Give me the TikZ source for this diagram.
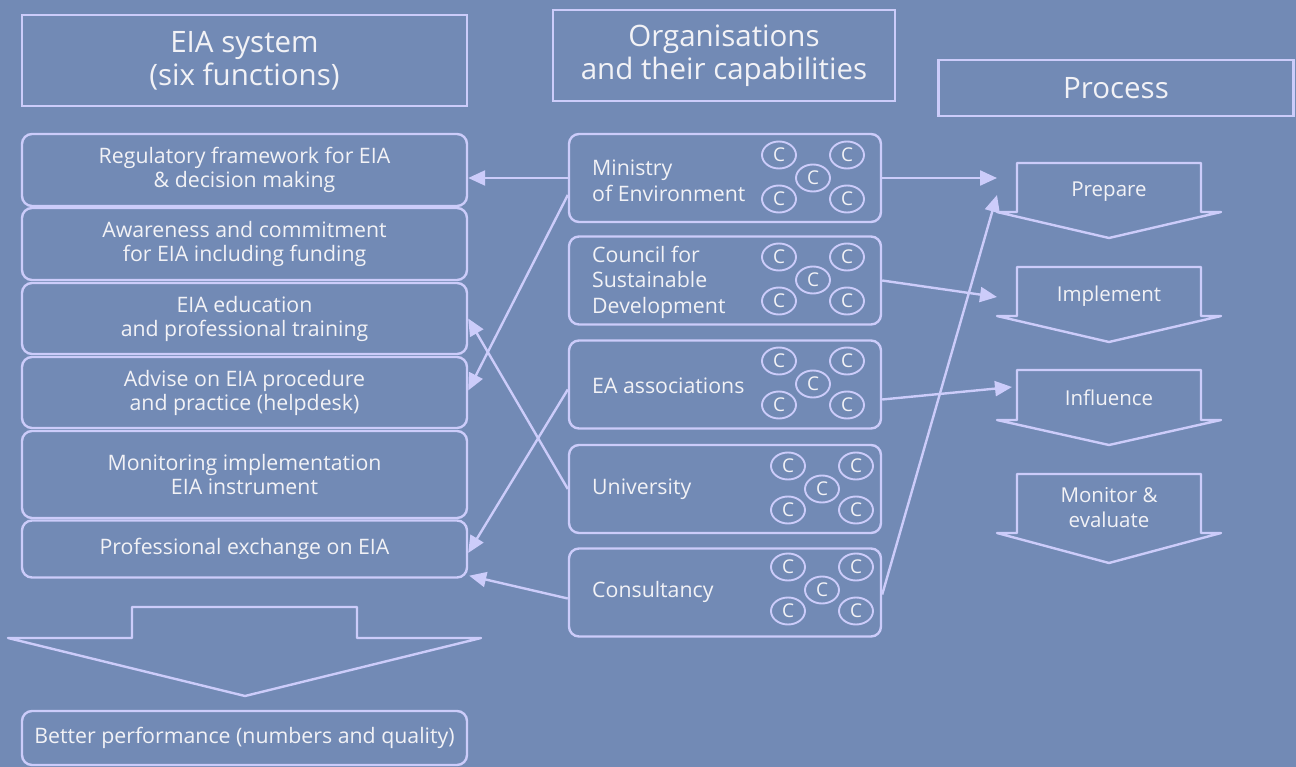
\documentclass[tikz,border=0pt]{standalone}
\usepackage{fontspec}
\setmainfont{Open Sans}
\usetikzlibrary{arrows.meta,shapes.geometric,calc}
\definecolor{bg}{RGB}{114,138,181}
\definecolor{ln}{RGB}{204,204,250}
\definecolor{tx}{RGB}{242,242,246}
\tikzset{
  every node/.style={text=tx},
  titlebox/.style={draw=ln, line width=2.4pt, align=center, inner sep=0pt,
    font=\fontsize{29.5}{33}\selectfont},
  fbox/.style={draw=ln, line width=2.4pt, rounded corners=10pt, align=center,
    minimum width=445pt, inner sep=0pt, font=\fontsize{21.3}{24}\selectfont},
  obox/.style={draw=ln, line width=2.4pt, rounded corners=10pt,
    minimum width=312pt, minimum height=88pt, inner sep=0pt},
  otext/.style={anchor=west, align=left, inner sep=0pt, font=\fontsize{21.3}{25.5}\selectfont},
  capc/.style={draw=ln, line width=1.9pt, ellipse, minimum width=34pt, minimum height=27pt,
    inner sep=0pt, font=\fontsize{19}{19}\selectfont},
  parrow/.style={draw=ln, line width=2.4pt, line join=round},
  ptext/.style={align=center, inner sep=0pt, font=\fontsize{20.5}{25}\selectfont},
  conn/.style={draw=ln, line width=2.4pt, -{Triangle[length=17pt,width=15pt]}},
}
\newcommand\capgroup[3]{%
  \node[capc] (#1a) at (#2-34,#3-23) {C};
  \node[capc] (#1b) at (#2+34,#3-23) {C};
  \node[capc] (#1c) at (#2,#3) {C};
  \node[capc] (#1d) at (#2-34,#3+21) {C};
  \node[capc] (#1e) at (#2+34,#3+21) {C};
}
\begin{document}
\begin{tikzpicture}[x=1pt,y=-1pt]
\useasboundingbox (0,0) rectangle (1296,767);
\fill[bg] (0,0) rectangle (1296,767);

% titles
\node[titlebox, minimum width=445pt, minimum height=91pt] (tEIA) at (244.5,60.5) {EIA system\\(six functions)};
\node[titlebox, minimum width=342pt, minimum height=91pt] (tOrg) at (724,55.5) {Organisations\\and their capabilities};
\node[titlebox, minimum width=355pt, minimum height=56pt] (tProc) at (1116,88) {Process};

% six functions
\node[fbox, minimum height=72pt] (f1) at (244.5,170) {Regulatory framework for EIA\\\& decision making};
\node[fbox, minimum height=72pt] (f2) at (244.5,244) {Awareness and commitment\\for EIA including funding};
\node[fbox, minimum height=71pt] (f3) at (244.5,318.5) {EIA education\\and professional training};
\node[fbox, minimum height=71pt] (f4) at (244.5,392.5) {Advise on EIA procedure\\and practice (helpdesk)};
\node[fbox, minimum height=87pt] (f5) at (244.5,474.5) {Monitoring implementation\\EIA instrument};
\node[fbox, minimum height=57pt] (f6) at (244.5,549) {Professional exchange on EIA};

% big arrow
\draw[parrow] (132,607) -- (357,607) -- (357,638) -- (481,638) -- (245,696) -- (8,638) -- (132,638) -- cycle;
\node[fbox, minimum height=54pt] (perf) at (244.5,738) {Better performance (numbers and quality)};

% organisations
\node[obox] (o1) at (725,178) {};
\node[obox] (o2) at (725,280.5) {};
\node[obox] (o3) at (725,384.5) {};
\node[obox] (o4) at (725,489) {};
\node[obox] (o5) at (725,592.5) {};
\node[otext] (o1t) at (592,181) {Ministry\\of Environment};
\node[otext] (o2t) at (592,282) {Council for\\Sustainable\\Development};
\node[otext] (o3t) at (592,386) {EA associations};
\node[otext] (o4t) at (592,489) {University};
\node[otext] (o5t) at (592,592) {Consultancy};
\capgroup{ca}{813}{178}
\capgroup{cb}{813}{280}
\capgroup{cc}{813}{384}
\capgroup{cd}{822}{489}
\capgroup{ce}{822}{590}

% process arrows
\draw[parrow] (1017,163) -- (1201,163) -- (1201,212) -- (1221,212) -- (1109,238) -- (997,212) -- (1017,212) -- cycle;
\node[ptext] (p1) at (1109,192) {Prepare};
\draw[parrow] (1017,267) -- (1201,267) -- (1201,316) -- (1221,316) -- (1109,342) -- (997,316) -- (1017,316) -- cycle;
\node[ptext] (p2) at (1109,296) {Implement};
\draw[parrow] (1017,370) -- (1201,370) -- (1201,420) -- (1221,420) -- (1109,445) -- (997,420) -- (1017,420) -- cycle;
\node[ptext] (p3) at (1109,398) {Influence};
\draw[parrow] (1017,474) -- (1201,474) -- (1201,533) -- (1221,533) -- (1109,563) -- (997,533) -- (1017,533) -- cycle;
\node[ptext] (p4) at (1109,508) {Monitor \&\\evaluate};

\coordinate (prepIn) at (997,178);
\coordinate (prepIn2) at (997,195);
\coordinate (implIn) at (997,297);
\coordinate (inflIn) at (1012,387);

% connectors
\draw[conn] (o1.west) -- (f1.east |- o1.west);
\draw[conn] ($(o1.west)+(0,17)$) -- ($(f4.east)+(0,-2)$);
\draw[conn] (o4.west) -- (f3.east);
\draw[conn] ($(o3.west)+(0,5)$) -- ($(f6.east)+(0,4)$);
\draw[conn] ($(o5.west)+(0,6)$) -- ($(f6.south east)+(1,-3)$);
\draw[conn] (o1.east) -- (prepIn);
\draw[conn] (o2.east) -- (implIn);
\draw[conn] ($(o3.east)+(0,15)$) -- (inflIn);
\draw[conn] ($(o5.east)+(0,2)$) -- (prepIn2);
\end{tikzpicture}
\end{document}
